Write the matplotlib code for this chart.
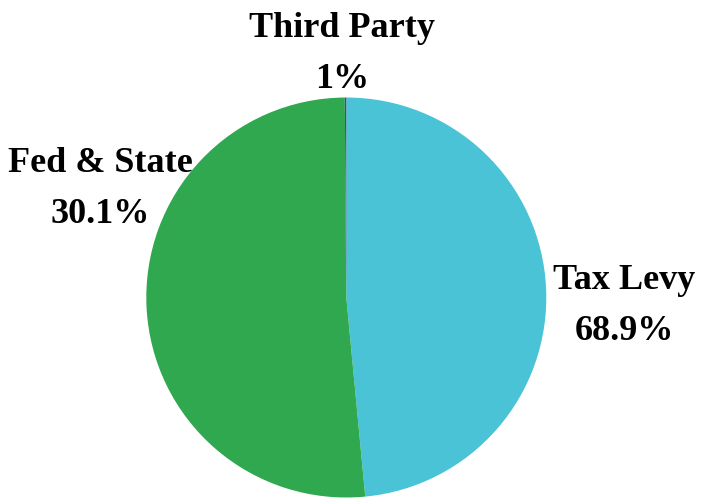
import matplotlib
matplotlib.use("Agg")
import matplotlib.pyplot as plt

categories = ["Tax Levy", "Fed & State", "Third Party"]
slice_sizes = [48.5, 51.4, 0.12]          # visual slice shares
label_pcts = ["68.9%", "30.1%", "1%"]     # printed labels
colors = ["#4AC3D6", "#2FA84F", "#3F4A8C"]

# label anchor positions (pie-radius units)
label_pos = [(1.39, 0.0425), (-1.23, 0.6275), (-0.02, 1.3025)]
line_gap = 0.255

fig = plt.figure(figsize=(7.02, 5.0), dpi=100)
ax = fig.add_axes([0, 0, 1, 1])
ax.pie(slice_sizes, colors=colors, startangle=90, counterclock=False,
       radius=1.0, center=(0, 0),
       wedgeprops=dict(linewidth=0.4, edgecolor="none"))
ax.set_aspect("auto")
ax.set_xlim(-1.7315, 1.7785)
ax.set_ylim(-1.0125, 1.4875)
ax.axis("off")

font = dict(family=["Liberation Serif", "DejaVu Serif"], fontweight="bold",
            fontsize=26, color="black")
for cat, pct, (x, y) in zip(categories, label_pcts, label_pos):
    ax.text(x, y, cat, ha="center", va="baseline", **font)
    ax.text(x, y - line_gap, pct, ha="center", va="baseline", **font)

fig.savefig("out.png", dpi=100, facecolor="white")
